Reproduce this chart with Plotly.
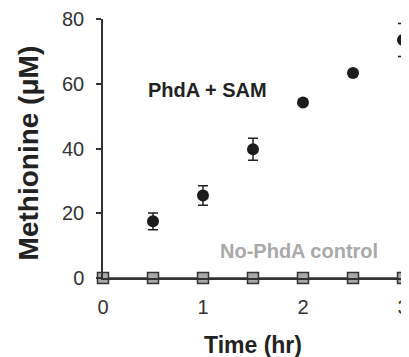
import plotly.graph_objects as go

time_sam = [0.5, 1.0, 1.5, 2.0, 2.5, 3.0]
met_sam = [17.5, 25.5, 39.8, 54.2, 63.3, 73.5]
err_sam = [2.6, 3.0, 3.4, 0.8, 0.8, 5.1]

time_ctrl = [0, 0.5, 1.0, 1.5, 2.0, 2.5, 3.0]
met_ctrl = [0, 0, 0, 0, 0, 0, 0]

x_ticks = [0, 1, 2, 3]
y_ticks = [0, 20, 40, 60, 80]

FONT = "Liberation Sans, Arial, sans-serif"

fig = go.Figure()
fig.add_trace(go.Scatter(
    x=time_ctrl, y=met_ctrl, mode="lines+markers",
    line=dict(color="#333333", width=1.5),
    marker=dict(symbol="square", size=11, color="#a8a8a8",
                line=dict(color="#333333", width=1.5)),
    cliponaxis=False, showlegend=False))
fig.add_trace(go.Scatter(
    x=time_sam, y=met_sam, mode="markers",
    marker=dict(symbol="circle", size=12, color="#1c1c1c"),
    error_y=dict(type="data", array=err_sam, color="#222222", thickness=1.5, width=5),
    cliponaxis=False, showlegend=False))

fig.add_annotation(x=1.04, y=58, xref="x", yref="y", text="<b>PhdA + SAM</b>",
                   showarrow=False, font=dict(family=FONT, size=20, color="#222222"))
fig.add_annotation(x=1.96, y=8.3, xref="x", yref="y", text="<b>No-PhdA control</b>",
                   showarrow=False, font=dict(family=FONT, size=20, color="#a9a9a9"))

# axis titles placed as annotations for exact positioning
fig.add_annotation(x=0, y=0.481, xref="paper", yref="paper", xshift=-75,
                   text="<b>Methionine (μM)</b>", textangle=-90, showarrow=False,
                   xanchor="center", yanchor="middle",
                   font=dict(family=FONT, size=28, color="#222222"))
fig.add_annotation(x=0.5, y=0, xref="paper", yref="paper", yshift=-67,
                   text="<b>Time (hr)</b>", showarrow=False,
                   xanchor="center", yanchor="middle",
                   font=dict(family=FONT, size=23, color="#222222"))

# page body has an 8px default margin, so the figure is offset by (8, 8)
fig.update_layout(
    width=401, height=349,
    margin=dict(l=95, r=6, t=11, b=79),
    paper_bgcolor="white", plot_bgcolor="white",
    font=dict(family=FONT, color="#333333"),
    xaxis=dict(range=[0, 3], tickvals=x_ticks, ticks="", showgrid=False, zeroline=False,
               showline=True, linecolor="#333333", linewidth=1.5, automargin=False,
               tickfont=dict(size=20, color="#333333"), ticklabelstandoff=10),
    yaxis=dict(range=[0, 80], tickvals=y_ticks, ticks="outside", ticklen=5, tickwidth=1.5,
               tickcolor="#333333", showgrid=False, zeroline=False, automargin=False,
               showline=True, linecolor="#333333", linewidth=1.5,
               tickfont=dict(size=20, color="#333333"), ticklabelstandoff=8),
)

fig.write_html("out.html")
